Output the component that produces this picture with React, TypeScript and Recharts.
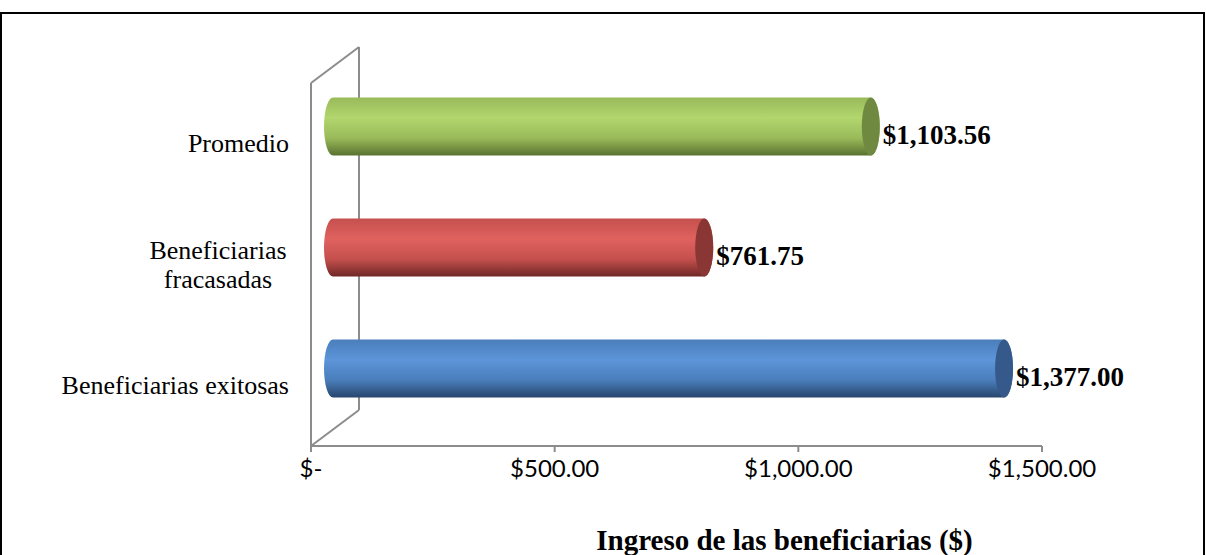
import React from "react";
import { BarChart, Bar, XAxis, YAxis, LabelList } from "recharts";

// data
const CATEGORIES = ["Promedio", "Beneficiarias fracasadas", "Beneficiarias exitosas"];
const INGRESO = [1103.56, 761.75, 1377.0];
const X_TICKS = [0, 500, 1000, 1500];
const AXIS_TITLE = "Ingreso de las beneficiarias ($)";

const data = CATEGORIES.map((name, i) => ({ name, ingreso: INGRESO[i] }));

// layout
const W = 1206;
const H = 555;
const PLOT_LEFT = 311;
const PLOT_RIGHT = 1042;
const PLOT_TOP = 83;
const PLOT_BOTTOM = 446;
const XAXIS_H = 70;

// fake 3d depth
const WALL_DX = 48;
const WALL_DY = -36;
const BAR_DX = 22;
const BAR_DY = -17.5;
const CAP_RX = 9;

const GRID = "#8c8c8c";
const SERIF = '"Liberation Serif", "Times New Roman", serif';

const BAR_COLORS = [
  { top: "#9aba5a", light: "#b2d66e", dark: "#5a7230", cap: "#6f8a40" },
  { top: "#c4504d", light: "#e0625f", dark: "#6f2827", cap: "#8a3634" },
  { top: "#4a7ebb", light: "#5d95d9", dark: "#27466d", cap: "#35598a" },
];

const fmtMoney = (v: number) =>
  "$" + v.toLocaleString("en-US", { minimumFractionDigits: 2, maximumFractionDigits: 2 });

const fmtTick = (v: number) => (v === 0 ? "$-" : fmtMoney(v));

function Cylinder(props: any) {
  const { x, y, width, height, index } = props;
  const x0 = x + BAR_DX;
  const x1 = x0 + width;
  const top = y + BAR_DY;
  const bot = top + height;
  const ry = height / 2;
  const c = BAR_COLORS[index % BAR_COLORS.length];
  const d = `M${x0},${top} L${x1},${top} A${CAP_RX},${ry} 0 0 1 ${x1},${bot} L${x0},${bot} A${CAP_RX},${ry} 0 0 1 ${x0},${top} Z`;
  return (
    <g>
      <path d={d} fill={`url(#cyl${index})`} />
      <ellipse cx={x1} cy={top + ry} rx={CAP_RX} ry={ry} fill={c.cap} />
    </g>
  );
}

function ValueLabel(props: any) {
  const { x, y, width, height, value } = props;
  return (
    <text
      x={x + BAR_DX + width + CAP_RX + 3}
      y={y + BAR_DY + height / 2 + 17}
      fontFamily={SERIF}
      fontWeight="bold"
      fontSize={27}
      fill="#000"
    >
      {fmtMoney(value)}
    </text>
  );
}

function CategoryTick(props: any) {
  const { x, y, payload } = props;
  const label: string = payload.value;
  const lines = label.length > 22 ? label.split(" ") : [label];
  if (lines.length === 1) {
    return (
      <text x={x} y={y} dy="0.33em" textAnchor="end" fontFamily={SERIF} fontSize={26} fill="#000">
        {label}
      </text>
    );
  }
  const lh = 29;
  return (
    <text x={x - 71} y={y} textAnchor="middle" fontFamily={SERIF} fontSize={26} fill="#000">
      {lines.map((ln, i) => (
        <tspan key={i} x={x - 71} y={y + (i - (lines.length - 1) / 2) * lh} dy="0.33em">
          {ln}
        </tspan>
      ))}
    </text>
  );
}

function MoneyTick(props: any) {
  const { x, y, payload } = props;
  return (
    <text x={x} y={y + 23} textAnchor="middle" fontFamily="Lato, sans-serif" fontSize={24} fill="#000">
      {fmtTick(payload.value)}
    </text>
  );
}

function Wall() {
  const x0 = PLOT_LEFT;
  const x1 = PLOT_LEFT + WALL_DX;
  return (
    <svg width={W} height={H} style={{ position: "absolute", left: 0, top: 0 }}>
      <g stroke={GRID} strokeWidth={2} fill="none">
        <line x1={x0} y1={PLOT_TOP} x2={x0} y2={PLOT_BOTTOM} />
        <line x1={x0} y1={PLOT_TOP} x2={x1} y2={PLOT_TOP + WALL_DY} />
        <line x1={x1} y1={PLOT_TOP + WALL_DY} x2={x1} y2={PLOT_BOTTOM + WALL_DY} />
        <line x1={x1} y1={PLOT_BOTTOM + WALL_DY} x2={x0} y2={PLOT_BOTTOM} />
      </g>
    </svg>
  );
}

export default function App() {
  return (
    <div
      style={{
        position: "absolute",
        left: 0,
        top: 0,
        width: W,
        height: H,
        overflow: "hidden",
        background: "#fff",
      }}
    >
      <div
        style={{
          position: "absolute",
          left: 0,
          top: 12,
          width: W - 1,
          height: 700,
          boxSizing: "border-box",
          border: "2px solid #000",
        }}
      />
      <Wall />
      <div style={{ position: "absolute", left: 0, top: 0 }}>
        <BarChart
          width={W}
          height={H}
          data={data}
          layout="vertical"
          margin={{
            top: PLOT_TOP,
            right: W - PLOT_RIGHT,
            left: 0,
            bottom: H - PLOT_BOTTOM - XAXIS_H,
          }}
        >
          <defs>
            {BAR_COLORS.map((c, i) => (
              <linearGradient key={i} id={`cyl${i}`} x1="0" y1="0" x2="0" y2="1">
                <stop offset="0%" stopColor={c.top} />
                <stop offset="35%" stopColor={c.light} />
                <stop offset="70%" stopColor={c.top} />
                <stop offset="100%" stopColor={c.dark} />
              </linearGradient>
            ))}
          </defs>
          <XAxis
            type="number"
            domain={[0, 1500]}
            ticks={X_TICKS}
            interval={0}
            height={XAXIS_H}
            axisLine={{ stroke: GRID, strokeWidth: 2 }}
            tickLine={{ stroke: GRID, strokeWidth: 2 }}
            tickSize={6}
            tick={<MoneyTick />}
            label={{
              content: (p: any) => {
                const vb = p.viewBox || { x: PLOT_LEFT, y: PLOT_BOTTOM, width: PLOT_RIGHT - PLOT_LEFT };
                return (
                  <text
                    x={vb.x + vb.width / 2 + 108}
                    y={vb.y + 104}
                    textAnchor="middle"
                    fontFamily={SERIF}
                    fontWeight="bold"
                    fontSize={29}
                    fill="#000"
                  >
                    {AXIS_TITLE}
                  </text>
                );
              },
            }}
          />
          <YAxis
            type="category"
            dataKey="name"
            width={PLOT_LEFT}
            axisLine={false}
            tickLine={false}
            tickSize={22}
            tickMargin={0}
            tick={<CategoryTick />}
          />
          <Bar dataKey="ingreso" barSize={58} shape={<Cylinder />} isAnimationActive={false}>
            <LabelList dataKey="ingreso" content={<ValueLabel />} />
          </Bar>
        </BarChart>
      </div>
    </div>
  );
}
